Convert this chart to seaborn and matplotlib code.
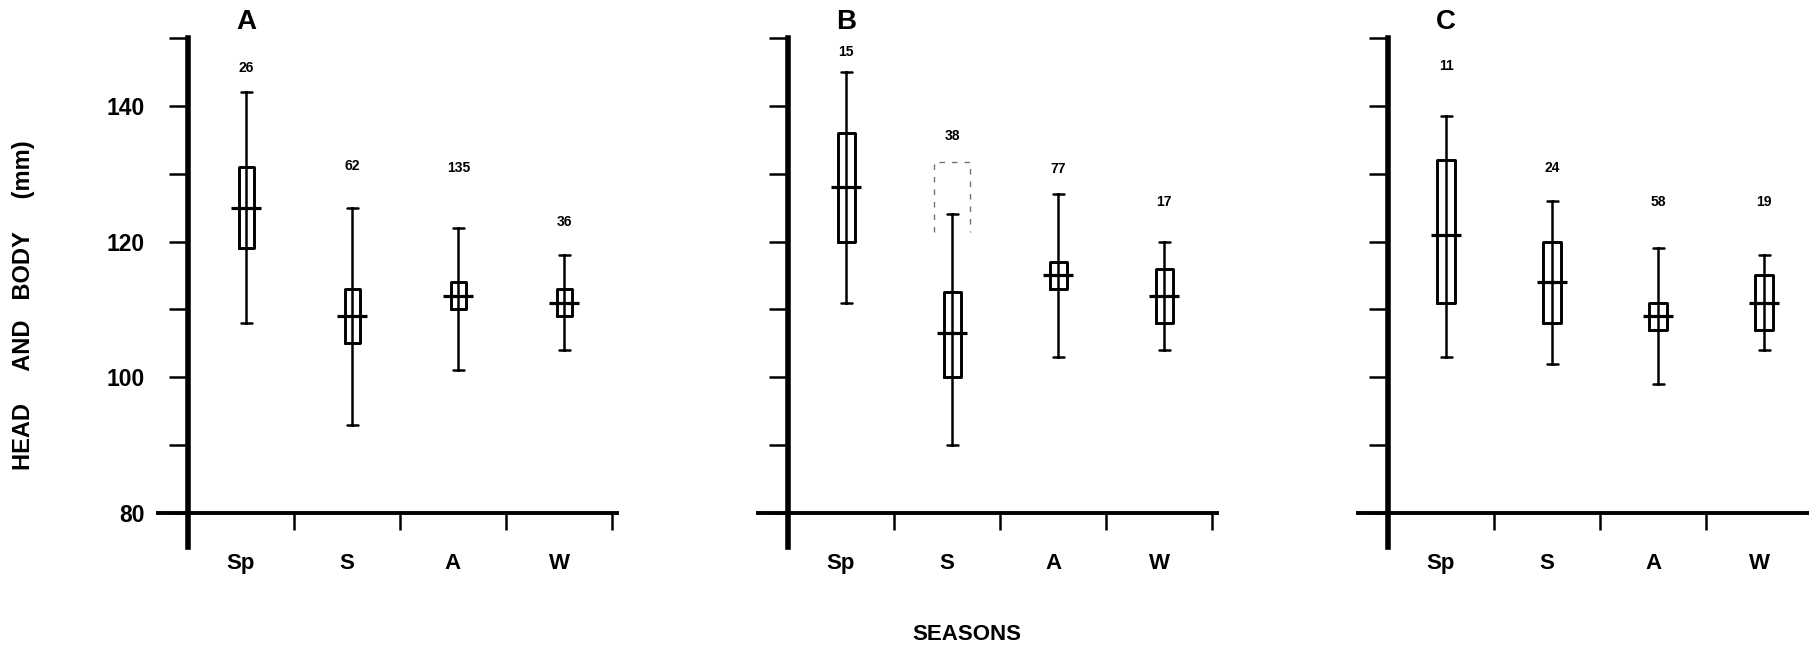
import numpy as np
import pandas as pd
import matplotlib
matplotlib.use("Agg")
import matplotlib.pyplot as plt
from matplotlib.ticker import FixedLocator
import seaborn as sns

# Head-and-body length (mm) by season for three groups
seasons = ["Sp", "S", "A", "W"]
panels = ["A", "B", "C"]

range_low = [[108, 93, 101, 104], [111, 90, 103, 104], [103, 102, 99, 104]]
box_low = [[119, 105, 110, 109], [120, 100, 113, 108], [111, 108, 107, 107]]
centre = [[125, 109, 112, 111], [128, 106.5, 115, 112], [121, 114, 109, 111]]
box_high = [[131, 113, 114, 113], [136, 112.5, 117, 116], [132, 120, 111, 115]]
range_high = [[142, 125, 122, 118], [145, 124, 127, 120], [138.5, 126, 119, 118]]
sample_n = [[26, 62, 135, 36], [15, 38, 77, 17], [11, 24, 58, 19]]

# heights (mm) at which the sample sizes are printed
n_label_y = [[145.6, 131.2, 130.9, 122.9], [148.0, 135.6, 130.7, 125.9], [145.9, 130.8, 125.8, 125.8]]
# dashed outline left over from a withdrawn summer box in panel B
withdrawn_box = [121.4, 131.7]

sns.set_style("ticks")
plt.rcParams["font.family"] = ["Liberation Sans", "DejaVu Sans"]
plt.rcParams["font.weight"] = "bold"
for key in ("text.color", "axes.labelcolor", "xtick.color", "ytick.color",
            "xtick.labelcolor", "ytick.labelcolor"):
    plt.rcParams[key] = "black"

W, H = 1809, 647
fig = plt.figure(figsize=(W / 100, H / 100), dpi=100)

unit_x = 106.0          # pixels per season slot
unit_y = 6.786          # pixels per mm
origin_x = [188, 788, 1388]
origin_y = 513          # pixel row of the 80 mm line
x_lo, x_hi = -0.28, 4.05
y_lo, y_hi = 75, 151
positions = np.arange(len(seasons)) + 0.55
label_positions = np.arange(len(seasons)) + 0.5
box_width = [0.14, 0.165, 0.17]

for k, panel in enumerate(panels):
    left = origin_x[k] + x_lo * unit_x
    bottom = H - (origin_y + (80 - y_lo) * unit_y)
    ax = fig.add_axes([left / W, bottom / H,
                       (x_hi - x_lo) * unit_x / W, (y_hi - y_lo) * unit_y / H])

    rows = []
    for i, s in enumerate(seasons):
        for v in (range_low[k][i], box_low[k][i], centre[k][i],
                  box_high[k][i], range_high[k][i]):
            rows.append({"season": s, "pos": positions[i], "mm": v})
    df = pd.DataFrame(rows)

    # open boxes (no whiskers / median: drawn by the point plot below)
    sns.boxplot(data=df, x="pos", y="mm", native_scale=True, width=box_width[k],
                whis=(0, 100), fill=False, color="black", linewidth=2.1,
                showcaps=False, whiskerprops={"visible": False},
                medianprops={"visible": False}, ax=ax)
    # full range line with caps and the wide centre bar
    sns.pointplot(data=df, x="pos", y="mm", native_scale=True, estimator="median",
                  errorbar=("pi", 100), capsize=0.1, color="black",
                  marker="_", markersize=21, markeredgewidth=2.3, linestyle="none",
                  err_kws={"linewidth": 1.8}, ax=ax)

    if panel == "B":
        i = seasons.index("S")
        x0, x1 = positions[i] - 0.17, positions[i] + 0.17
        ax.plot([x0, x0, x1, x1], [withdrawn_box[0], withdrawn_box[1], withdrawn_box[1], withdrawn_box[0]],
                color="0.45", lw=1.0, ls=(0, (4, 5)))

    for i, n in enumerate(sample_n[k]):
        ax.text(positions[i], n_label_y[k][i], str(n), ha="center", va="center",
                fontsize=10, fontweight="bold")

    ax.text(positions[0], 152.4, panel, ha="center", va="center",
            fontsize=20, fontweight="bold", clip_on=False)

    ax.set_xlim(x_lo, x_hi)
    ax.set_ylim(y_lo, y_hi)
    ax.set_xlabel("")
    ax.set_ylabel("")
    ax.spines["top"].set_visible(False)
    ax.spines["right"].set_visible(False)
    ax.spines["left"].set_position(("data", 0))
    ax.spines["bottom"].set_position(("data", 80))
    ax.spines["left"].set_bounds(y_lo, 150)
    ax.spines["left"].set_linewidth(4.0)
    ax.spines["bottom"].set_linewidth(2.8)
    for sp in ax.spines.values():
        sp.set_color("black")

    yt = np.arange(80, 151, 10)
    ax.set_yticks(yt)
    if k == 0:
        ax.set_yticklabels([str(v) if v % 20 == 0 and v < 150 else "" for v in yt])
    else:
        ax.set_yticklabels([])
    ax.tick_params(axis="y", length=14, width=1.8, pad=17, labelsize=16.5)

    ax.set_xticks(label_positions)
    ax.set_xticklabels(seasons)
    ax.tick_params(axis="x", which="major", length=0, pad=29, labelsize=16)
    ax.xaxis.set_minor_locator(FixedLocator([1, 2, 3, 4]))
    ax.tick_params(axis="x", which="minor", length=12.5, width=1.8, direction="out")
    ax.patch.set_alpha(0)

fig.text(24 / W, 1 - 305 / H, "HEAD     AND   BODY     (mm)", rotation=90,
         ha="center", va="center", fontsize=17, fontweight="bold")
fig.text(967 / W, 1 - 634 / H, "SEASONS", ha="center", va="center",
         fontsize=16, fontweight="bold")

fig.savefig("out.png", dpi=100, facecolor="white")
